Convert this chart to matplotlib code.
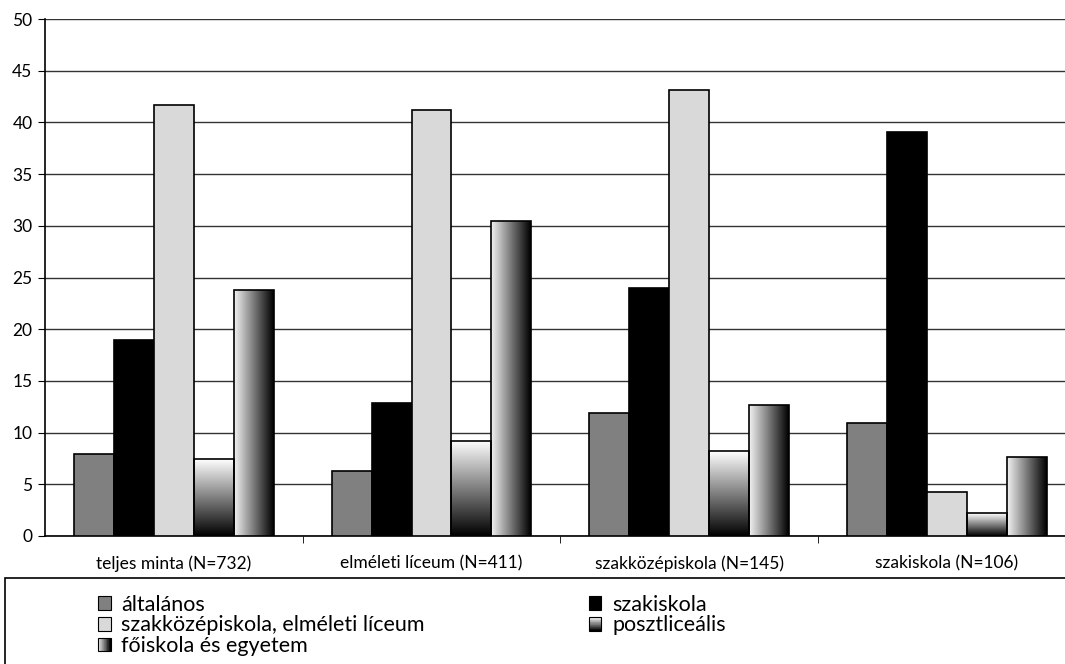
import numpy as np
import matplotlib
matplotlib.use("Agg")
import matplotlib.pyplot as plt
from matplotlib.patches import Rectangle
from matplotlib.legend_handler import HandlerBase

plt.rcParams["font.family"] = ["Lato", "DejaVu Sans"]

categories = ["teljes minta (N=732)", "elméleti líceum (N=411)",
              "szakközépiskola (N=145)", "szakiskola (N=106)"]
series_names = ["általános", "szakiskola", "szakközépiskola, elméleti líceum",
                "posztliceális", "főiskola és egyetem"]
altalanos = [7.9, 6.3, 11.9, 10.9]
szakiskola = [19.0, 12.9, 24.0, 39.1]
szakkozep = [41.7, 41.2, 43.1, 4.3]
posztliceal = [7.4, 9.2, 8.2, 2.2]
foiskola = [23.8, 30.5, 12.7, 7.6]
values = [altalanos, szakiskola, szakkozep, posztliceal, foiskola]
yticks = list(range(0, 51, 5))

fills = ["#808080", "#000000", "#d9d9d9", None, None]
grad_v = np.linspace(1, 0, 256).reshape(-1, 1)        # white top -> black bottom
grad_h = np.linspace(0.95, 0.0, 256).reshape(1, -1)   # light left -> black right

fig = plt.figure(figsize=(10.65, 6.64), dpi=100)
ax = fig.add_axes([45 / 1065, 1 - 536 / 664, 1 - 45 / 1065 + 0.01, (536 - 19) / 664])

x = np.arange(len(categories))
w = 0.155
for i, vals in enumerate(values):
    pos = x + (i - 2) * w
    bars = ax.bar(pos, vals, width=w, color=fills[i] if fills[i] else "white",
                  edgecolor="black", linewidth=1.2, zorder=3)
    if i >= 3:
        for b in bars:
            b.set_facecolor("none")
            bx, by, bw, bh = b.get_x(), b.get_y(), b.get_width(), b.get_height()
            img = grad_v if i == 3 else grad_h
            im = ax.imshow(img, cmap="gray", vmin=0, vmax=1, aspect="auto",
                           extent=[bx, bx + bw, by, by + bh], zorder=2.9,
                           interpolation="bilinear")
            im.set_clip_path(b)

ax.set_xlim(-0.5, len(categories) - 0.5)
ax.set_ylim(0, 50)
ax.set_yticks(yticks)
ax.tick_params(axis="y", labelsize=12.5, length=5, direction="out", pad=4)
ax.set_xticks(x)
ax.set_xticklabels(categories, fontsize=12.5)
ax.tick_params(axis="x", length=0, pad=14)
ax.set_xticks(np.arange(0.5, len(categories) - 0.5, 1), minor=True)
ax.tick_params(axis="x", which="minor", length=5, direction="out")
ax.yaxis.grid(True, color="#333333", linewidth=1)
ax.set_axisbelow(True)
for s in ["top", "right"]:
    ax.spines[s].set_visible(False)
ax.spines["left"].set_linewidth(1.2)
ax.spines["bottom"].set_linewidth(1.2)


class GradientHandler(HandlerBase):
    def __init__(self, vertical):
        super().__init__()
        self.vertical = vertical

    def create_artists(self, legend, orig_handle, xdescent, ydescent, width, height, fontsize, trans):
        n = 20
        arts = []
        for k in range(n):
            if self.vertical:
                c = 1 - k / (n - 1)
                r = Rectangle((-xdescent, -ydescent + height * (n - 1 - k) / n), width, height / n,
                              facecolor=(c, c, c), edgecolor="none", transform=trans)
            else:
                c = 0.95 * (1 - k / (n - 1))
                r = Rectangle((-xdescent + width * k / n, -ydescent), width / n, height,
                              facecolor=(c, c, c), edgecolor="none", transform=trans)
            arts.append(r)
        arts.append(Rectangle((-xdescent, -ydescent), width, height, facecolor="none",
                              edgecolor="black", linewidth=0.8, transform=trans))
        return arts


handles = [Rectangle((0, 0), 1, 1, facecolor=fills[i] if fills[i] else "white",
                     edgecolor="black", linewidth=0.8) for i in range(5)]
order = [0, 2, 4, 1, 3]
leg = fig.legend([handles[i] for i in order], [series_names[i] for i in order],
                 ncol=2, loc="upper left", bbox_to_anchor=(87 / 1065, 1 - 584 / 664),
                 frameon=False, fontsize=15.5, handlelength=0.6, handleheight=0.6,
                 handletextpad=0.5, labelspacing=0.03, columnspacing=7.6,
                 borderpad=0,
                 handler_map={handles[3]: GradientHandler(True),
                              handles[4]: GradientHandler(False)})

fig.patches.append(Rectangle((5 / 1065, -0.02), 1.0, (664 - 578) / 664 + 0.02,
                             transform=fig.transFigure, facecolor="none",
                             edgecolor="black", linewidth=1.2))

fig.savefig("out.png", dpi=100)
